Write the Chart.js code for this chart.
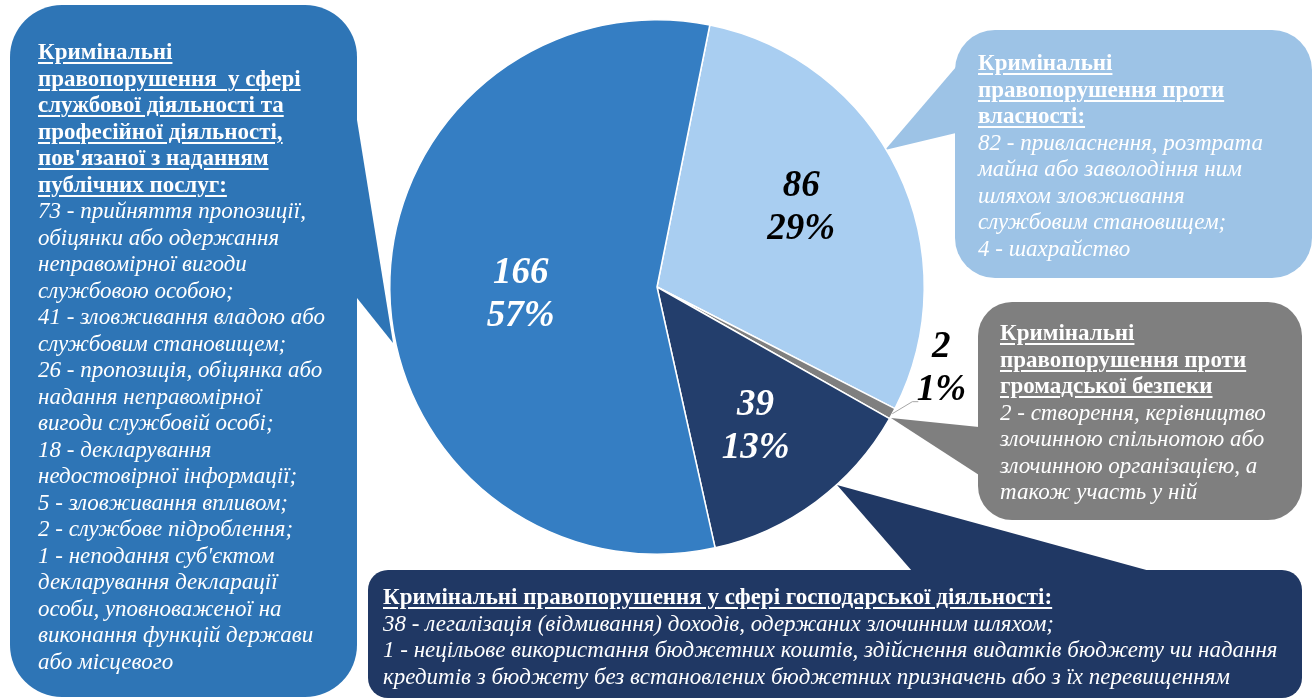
<!DOCTYPE html>
<html lang="uk">
<head>
<meta charset="utf-8">
<title>Кримінальні правопорушення</title>
<script src="https://cdn.jsdelivr.net/npm/chart.js@4.4.1/dist/chart.umd.min.js"></script>
<style>
  html, body { margin: 0; padding: 0; background: #fff; }
  #wrap { position: relative; width: 1314px; height: 698px; overflow: hidden; }
  #chart { position: absolute; left: 0; top: 0; }
  .note {
    position: absolute;
    color: #fff;
    font-family: "Liberation Serif", "Times New Roman", serif;
    font-size: 23px;
    line-height: 26.5px;
    white-space: nowrap;
  }
  .note b {
    font-weight: bold;
    text-decoration: underline;
    text-decoration-thickness: 1.5px;
    text-underline-offset: 3px;
  }
  .note i { font-style: italic; }
</style>
</head>
<body>
<div id="wrap">
  <canvas id="chart" width="1314" height="698"></canvas>

  <div class="note" style="left:38px;top:39px;">
    <b>Кримінальні<br>правопорушення&nbsp; у сфері<br>службової діяльності та<br>професійної діяльності,<br>пов'язаної з наданням<br>публічних послуг:</b><br>
    <i>73 - прийняття пропозиції,<br>обіцянки або одержання<br>неправомірної вигоди<br>службовою особою;<br>41 - зловживання владою або<br>службовим становищем;<br>26 - пропозиція, обіцянка або<br>надання неправомірної<br>вигоди службовій особі;<br>18 - декларування<br>недостовірної інформації;<br>5 - зловживання впливом;<br>2 - службове підроблення;<br>1 - неподання суб'єктом<br>декларування декларації<br>особи, уповноваженої на<br>виконання функцій держави<br>або місцевого</i>
  </div>

  <div class="note" style="left:978px;top:50px;">
    <b>Кримінальні<br>правопорушення проти<br>власності:</b><br>
    <i>82 - привласнення, розтрата<br>майна або заволодіння ним<br>шляхом зловживання<br>службовим становищем;<br>4 - шахрайство</i>
  </div>

  <div class="note" style="left:1000px;top:320px;">
    <b>Кримінальні<br>правопорушення проти<br>громадської безпеки</b><br>
    <i>2 - створення, керівництво<br>злочинною спільнотою або<br>злочинною організацією, а<br>також участь у ній</i>
  </div>

  <div class="note" style="left:383px;top:584px;">
    <b>Кримінальні правопорушення у сфері господарської діяльності:</b><br>
    <i>38 - легалізація (відмивання) доходів, одержаних злочинним шляхом;<br>1 - нецільове використання бюджетних коштів, здійснення видатків бюджету чи надання<br>кредитів з бюджету без встановлених бюджетних призначень або з їх перевищенням</i>
  </div>
</div>

<script>
// --- data ---
const categories = [
  'Кримінальні правопорушення проти власності',
  'Кримінальні правопорушення проти громадської безпеки',
  'Кримінальні правопорушення у сфері господарської діяльності',
  'Кримінальні правопорушення у сфері службової діяльності'
];
const counts = [86, 2, 39, 166];

// --- styles ---
const sliceColors = ['#a9cef1', '#7f7f7f', '#233e6c', '#357ec3'];
const labelColors = ['#000', '#000', '#fff', '#fff'];
// label distance from centre, as a share of the radius (>1 means outside with a leader)
const labelRadius = [0.62, 1.1, 0.62, 0.51];
const labelNudge = [[-5, -7], [0, 3], [0, 7], [0, 7]];

// callout bubbles: box + pointer triangle
const bubbles = [
  { color: '#2e75b6', x: 10, y: 5, w: 347, h: 692, r: 52, tri: [[357, 120], [393, 343], [357, 298]] },
  { color: '#9dc3e6', x: 955, y: 30, w: 357, h: 248, r: 40, tri: [[956, 67], [885, 150], [956, 133]] },
  { color: '#7f7f7f', x: 978, y: 302, w: 324, h: 218, r: 34, tri: [[979, 427], [891, 418], [979, 475]] },
  { color: '#203864', x: 368, y: 570, w: 934, h: 128, r: 20, tri: [[912, 571], [837, 485], [1150, 571]] }
];

const bubblePlugin = {
  id: 'bubbles',
  beforeDatasetsDraw(chart) {
    const ctx = chart.ctx;
    ctx.save();
    bubbles.forEach(b => {
      ctx.fillStyle = b.color;
      ctx.beginPath();
      ctx.roundRect(b.x, b.y, b.w, b.h, b.r);
      ctx.fill();
      ctx.beginPath();
      ctx.moveTo(b.tri[0][0], b.tri[0][1]);
      ctx.lineTo(b.tri[1][0], b.tri[1][1]);
      ctx.lineTo(b.tri[2][0], b.tri[2][1]);
      ctx.closePath();
      ctx.fill();
    });
    ctx.restore();
  }
};

const total = counts.reduce((a, b) => a + b, 0);

const labelPlugin = {
  id: 'sliceLabels',
  afterDatasetsDraw(chart) {
    const ctx = chart.ctx;
    const meta = chart.getDatasetMeta(0);
    ctx.save();
    ctx.font = 'bold italic 37px "Liberation Serif", "Times New Roman", serif';
    ctx.textAlign = 'center';
    ctx.textBaseline = 'middle';
    meta.data.forEach((arc, i) => {
      const p = arc.getProps(['x', 'y', 'startAngle', 'endAngle', 'outerRadius'], true);
      const mid = (p.startAngle + p.endAngle) / 2;
      let lx, ly;
      if (labelRadius[i] > 1) {
        // outside label with a small elbow leader
        const ex = p.x + Math.cos(mid) * p.outerRadius;
        const ey = p.y + Math.sin(mid) * p.outerRadius;
        ctx.strokeStyle = '#a6a6a6';
        ctx.lineWidth = 1;
        ctx.beginPath();
        ctx.moveTo(ex, ey);
        ctx.lineTo(ex + 20, ey - 12);
        ctx.lineTo(ex + 26, ey - 12);
        ctx.stroke();
        lx = ex + 49;
        ly = ey - 48;
      } else {
        const rr = p.outerRadius * labelRadius[i];
        lx = p.x + Math.cos(mid) * rr;
        ly = p.y + Math.sin(mid) * rr;
      }
      lx += labelNudge[i][0];
      ly += labelNudge[i][1];
      const pct = Math.round(counts[i] / total * 100) + '%';
      ctx.fillStyle = labelColors[i];
      ctx.fillText(String(counts[i]), lx, ly - 21.5);
      ctx.fillText(pct, lx, ly + 21.5);
    });
    ctx.restore();
  }
};

new Chart(document.getElementById('chart'), {
  type: 'pie',
  data: {
    labels: categories,
    datasets: [{
      data: counts,
      backgroundColor: sliceColors,
      borderColor: '#ffffff',
      borderWidth: 1.5
    }]
  },
  options: {
    responsive: false,
    animation: false,
    devicePixelRatio: 1,
    rotation: 11.4,
    layout: { padding: { left: 389, right: 389, top: 19, bottom: 143 } },
    plugins: {
      legend: { display: false },
      tooltip: { enabled: false }
    }
  },
  plugins: [bubblePlugin, labelPlugin]
});
</script>
</body>
</html>
